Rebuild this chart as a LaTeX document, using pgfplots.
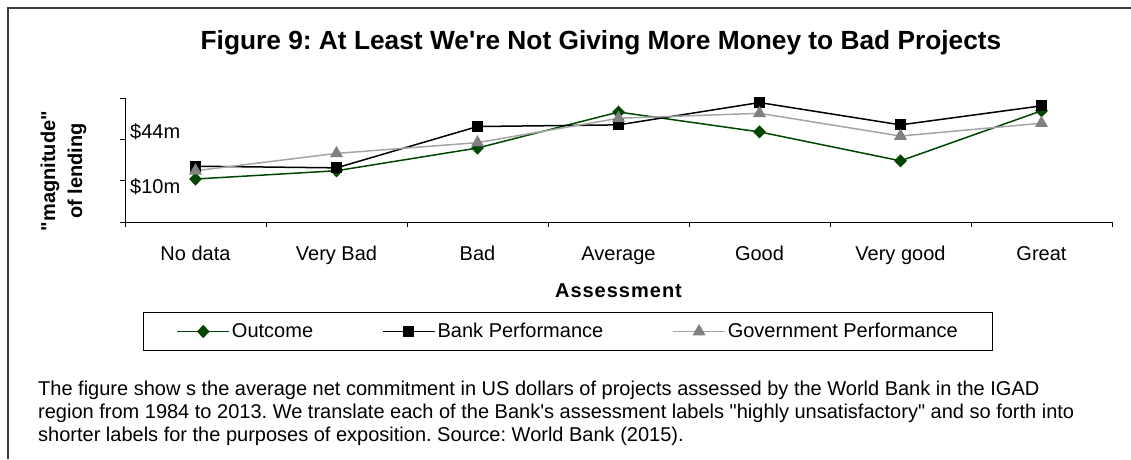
\documentclass[border=0pt]{standalone}
\usepackage{fontspec}
\setmainfont{Liberation Sans}[Ligatures=TeXOff]
\usepackage{pgfplots}
\pgfplotsset{compat=1.18}
\definecolor{outc}{RGB}{0,70,0}
\definecolor{govm}{RGB}{128,128,128}
\definecolor{govl}{RGB}{165,165,165}
\definecolor{framec}{RGB}{60,60,60}
\newcommand{\regf}{\fontsize{20}{23}\selectfont}
\frenchspacing
\begin{document}
\begin{tikzpicture}
\useasboundingbox (0,0) rectangle (1131pt,459pt);
\draw[framec, line width=1.5pt] (8pt,0) -- (8pt,451pt) -- (1131pt,451pt);
\node[font=\fontsize{26.3}{30}\selectfont\bfseries] at (601pt,416pt) {Figure 9: At Least We're Not Giving More Money to Bad Projects};
\begin{axis}[
  at={(125pt,237pt)}, anchor=south west, scale only axis,
  width=987pt, height=124pt,
  xmin=-0.5, xmax=6.5, ymin=0, ymax=3,
  axis x line*=bottom, axis y line*=left,
  axis line style={-, black, line width=1pt},
  x tick label as interval,
  xtick={-0.5,0.5,...,6.5},
  xticklabels={No data, Very Bad, Bad, Average, Good, Very good, Great},
  ytick={0,1,2,3}, yticklabels={},
  tick align=outside, major tick length=5pt,
  tick style={black, line width=1pt},
  ticklabel style={font=\regf},
  xticklabel style={anchor=north, text height=15pt, text depth=4pt, yshift=-15pt},
  xlabel={\addfontfeature{LetterSpace=5}Assessment},
  xlabel style={at={(axis description cs:0.5,-0.556)}, anchor=center, font=\regf\bfseries},
  ylabel={"magnitude"\\of lending},
  ylabel style={at={(axis description cs:-0.0623,0.41)}, anchor=center, align=center, font=\fontsize{20}{27}\selectfont\bfseries},
  legend columns=3,
  legend style={at={(0.01824,-0.7258)}, anchor=north west, draw=black, line width=1pt,
    font=\regf, inner xsep=33pt, inner ysep=9pt,
    /tikz/every even column/.append style={column sep=67pt}},
  legend image code/.code={\draw[mark repeat=2,mark phase=2,#1] plot coordinates {(0pt,0pt) (26pt,0pt) (52pt,0pt)};},
  clip=false,
]
\addplot[outc, line width=1.5pt, mark=diamond*, mark size=5.5pt, mark options={solid, fill=outc, xscale=1.3}]
  coordinates {(0,1.04)(1,1.24)(2,1.79)(3,2.66)(4,2.18)(5,1.48)(6,2.69)};
\addlegendentry{Outcome}
\addplot[black, line width=1.5pt, mark=square*, mark size=4.7pt, mark options={solid, fill=black}]
  coordinates {(0,1.35)(1,1.31)(2,2.31)(3,2.35)(4,2.89)(5,2.35)(6,2.81)};
\addlegendentry{Bank Performance}
\addplot[govl, line width=1.5pt, mark=triangle*, mark size=6pt, mark options={solid, draw=govm, fill=govm}]
  coordinates {(0,1.24)(1,1.66)(2,1.92)(3,2.51)(4,2.63)(5,2.08)(6,2.39)};
\addlegendentry{Government Performance}
\node[anchor=west, font=\regf, inner sep=0pt] at (axis cs:-0.5,2.18) {\hspace{5pt}\$44m};
\node[anchor=west, font=\regf, inner sep=0pt] at (axis cs:-0.5,0.85) {\hspace{5pt}\$10m};
\end{axis}
\node[anchor=base west, font=\regf, inner sep=0pt] at (38pt,64pt) {The figure show s the average net commitment in US dollars of projects assessed by the World Bank in the IGAD};
\node[anchor=base west, font=\regf, inner sep=0pt] at (38pt,41pt) {region from 1984 to 2013. We translate each of the Bank's assessment labels "highly unsatisfactory" and so forth into};
\node[anchor=base west, font=\regf, inner sep=0pt] at (38pt,18pt) {shorter labels for the purposes of exposition. Source: World Bank (2015).};
\end{tikzpicture}
\end{document}
